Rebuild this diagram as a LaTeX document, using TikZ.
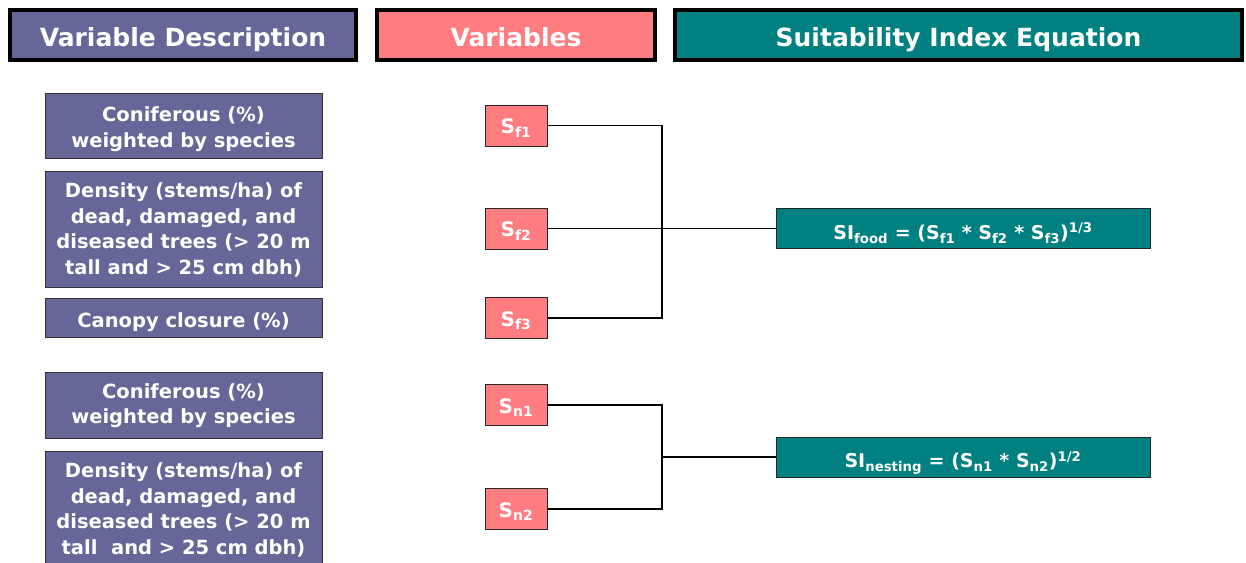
\documentclass[tikz,border=0pt]{standalone}
\usepackage{fontspec}
\setmainfont{DejaVu Sans}
\definecolor{descblue}{RGB}{102,102,153}
\definecolor{varred}{RGB}{255,124,128}
\definecolor{eqteal}{RGB}{0,128,128}
\begin{document}
\begin{tikzpicture}[x=1pt,y=-1pt,
  head/.style={draw=black,line width=4pt,minimum height=50pt,inner sep=0pt,text=white,
    text height=22pt,text depth=0pt,font=\fontsize{25}{30}\selectfont\bfseries},
  desc/.style={draw=black!80,line width=1pt,fill=descblue,minimum width=277pt,inner sep=0pt,
    text=white,align=center,text depth=0pt,font=\fontsize{19.5}{25.5}\selectfont\bfseries},
  var/.style={draw=black!85,line width=1pt,fill=varred,minimum width=62pt,minimum height=41pt,
    inner sep=0pt,text=white,text height=16.6pt,text depth=0pt,font=\fontsize{20}{24}\selectfont\bfseries},
  eq/.style={draw=black!85,line width=1pt,fill=eqteal,minimum width=374pt,minimum height=40pt,
    inner sep=0pt,text=white,text height=21.5pt,text depth=0pt,font=\fontsize{19}{23}\selectfont\bfseries},
  link/.style={line width=1.3pt}]
\useasboundingbox (0,0) rectangle (1246,562);
\clip (0,0) rectangle (1246,562);

\node[head,fill=descblue,minimum width=346pt] (H1) at (183,35) {Variable Description};
\node[head,fill=varred,minimum width=278pt] (H2) at (516,35) {Variables};
\node[head,fill=eqteal,minimum width=567pt] (H3) at (958.5,35) {Suitability Index Equation};

\node[desc,minimum height=65pt,text height=43.2pt] (D1) at (183.5,125.5) {Coniferous (\%)\\weighted by species};
\node[desc,minimum height=116pt,text height=90.2pt] (D2) at (183.5,229) {Density (stems/ha) of\\dead, damaged, and\\diseased trees (> 20 m\\tall and > 25 cm dbh)};
\node[desc,minimum height=39pt,text height=19.2pt] (D3) at (183.5,317.5) {Canopy closure (\%)};
\node[desc,minimum height=66pt,text height=37.7pt] (D4) at (183.5,405) {Coniferous (\%)\\weighted by species};
\node[desc,minimum height=116pt,text height=90.7pt] (D5) at (183.5,509) {Density (stems/ha) of\\dead, damaged, and\\diseased trees (> 20 m\\tall\ \ and > 25 cm dbh)};

\node[var] (V1) at (516,125.5) {S\textsubscript{f1}};
\node[var] (V2) at (516,228.5) {S\textsubscript{f2}};
\node[var] (V3) at (516,318) {S\textsubscript{f3}};
\node[var] (V4) at (516,405) {S\textsubscript{n1}};
\node[var] (V5) at (516,509) {S\textsubscript{n2}};

\node[eq] (E1) at (963,228.5) {SI\textsubscript{food} = (S\textsubscript{f1} * S\textsubscript{f2} * S\textsubscript{f3})\textsuperscript{1/3}};
\node[eq] (E2) at (963,457) {SI\textsubscript{nesting} = (S\textsubscript{n1} * S\textsubscript{n2})\textsuperscript{1/2}};

\coordinate (J1) at (662,228.5);
\coordinate (J2) at (662,457);

\draw[link] (V1.east) -| (J1) |- (V3.east);
\draw[link] (V2.east) -- (E1.west);
\draw[link] (V4.east) -| (J2) |- (V5.east);
\draw[link] (J2) -- (E2.west);

\end{tikzpicture}
\end{document}
